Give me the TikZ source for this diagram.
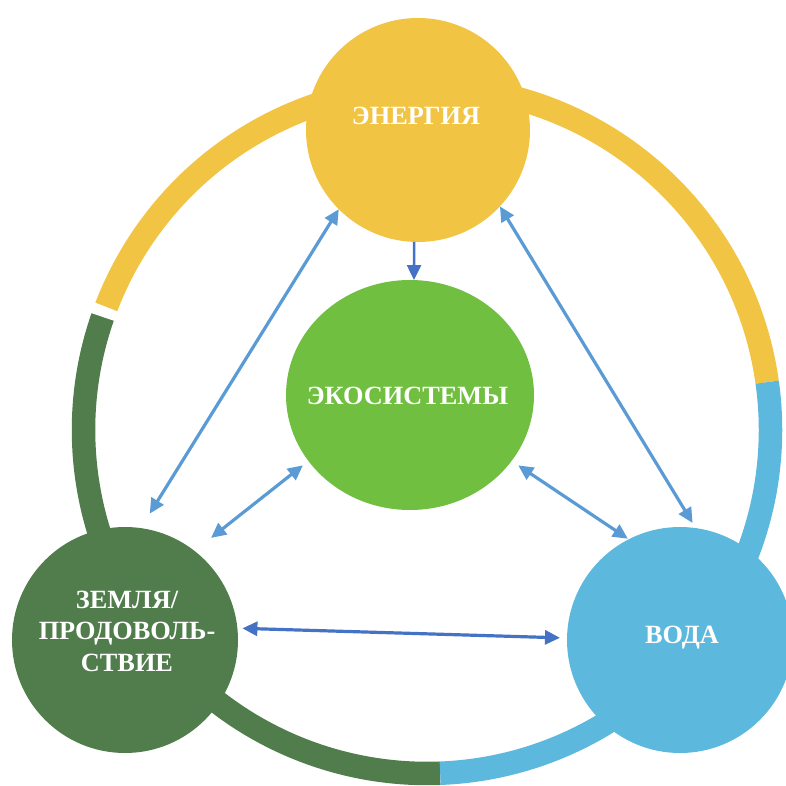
\documentclass[tikz,border=0pt]{standalone}
\usepackage{fontspec}
\setmainfont{Liberation Serif}
\usetikzlibrary{shapes.geometric,arrows.meta}
\definecolor{cyellow}{HTML}{F2C443}
\definecolor{cgreen}{HTML}{70BF41}
\definecolor{cdark}{HTML}{507D4B}
\definecolor{cblue}{HTML}{5DB8DE}
\definecolor{clight}{HTML}{5B9BD5}
\definecolor{cdeep}{HTML}{4472C4}
\begin{document}
\begin{tikzpicture}[x=1pt,y=1pt,
  ring/.style={line width=23.5pt},
  bubble/.style={circle,inner sep=0pt,outer sep=0pt,minimum size=226pt},
  lbl/.style={text=white,font=\fontsize{26.3}{31.5}\selectfont\bfseries,inner sep=0pt,align=center},
  link/.style={line width=3.2pt,draw=clight,{Triangle[length=15pt,width=14pt]}-{Triangle[length=15pt,width=14pt]}},
  linkdeep/.style={line width=3.2pt,draw=cdeep,{Triangle[length=15pt,width=14pt]}-{Triangle[length=15pt,width=14pt]}},
  downlink/.style={line width=2.6pt,draw=cdeep,-{Triangle[length=15pt,width=14pt]}}]
\useasboundingbox (0,0) rectangle (786,785);
% outer ring
\draw[ring,cyellow] (427,355) ++(8:343.5) arc (8:159:343.5);
\draw[ring,cdark] (427,355) ++(160.8:343.5) arc (160.8:272.2:343.5);
\draw[ring,cblue] (427,355) ++(-87.8:343.5) arc (-87.8:8:343.5);
% bubbles
\node[bubble,fill=cyellow,minimum size=224pt] (en) at (418,655) {};
\node[ellipse,inner sep=0pt,outer sep=0pt,minimum width=248pt,minimum height=230pt,fill=cgreen] (eco) at (410,390) {};
\node[bubble,fill=cdark] (la) at (125,145) {};
\node[bubble,fill=cblue] (wa) at (680,145) {};
% connectors
\draw[downlink] (en.268) -- (eco.88);
\draw[link,shorten >=17pt] (en.225) -- (la.82);
\draw[link,shorten >=6pt] (en.317.5) -- (wa.82);
\draw[link,shorten <=7pt,shorten >=21pt] (eco.213) -- (la.52);
\draw[link,shorten <=8pt,shorten >=1pt] (eco.327) -- (wa.117);
\draw[linkdeep,shorten <=5pt,shorten >=7pt] (la.6) -- (wa.179);
% labels
\node[lbl,anchor=base] (ent) at (416,660) {ЭНЕРГИЯ};
\node[lbl,anchor=base] (ecot) at (407.5,380) {ЭКОСИСТЕМЫ};
\node[lbl,anchor=base] (wat) at (682,142) {ВОДА};
\node[lbl] (lat) at (127,154) {ЗЕМЛЯ/\\ПРОДОВОЛЬ-\\СТВИЕ};
\end{tikzpicture}
\end{document}
